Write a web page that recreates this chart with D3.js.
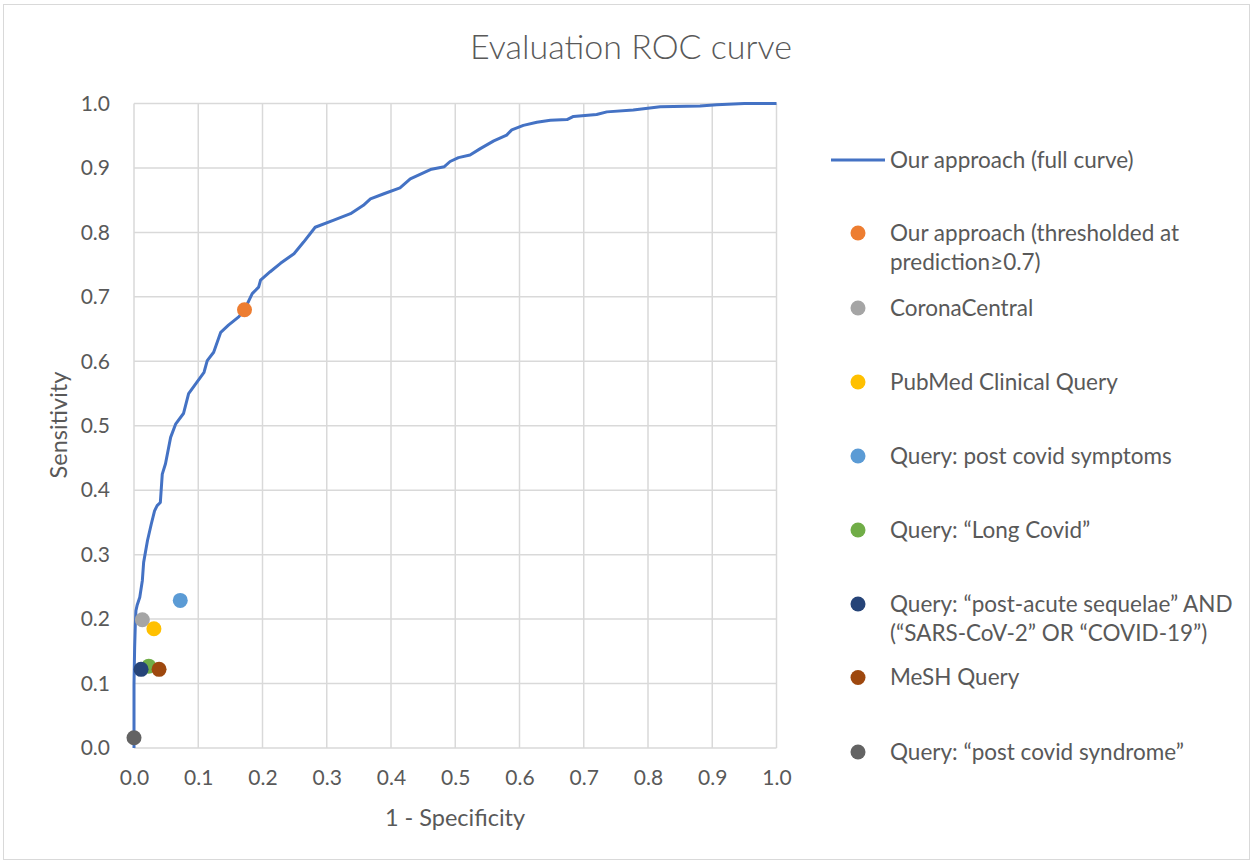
<!DOCTYPE html>
<html>
<head>
<meta charset="utf-8">
<script src="https://cdn.jsdelivr.net/npm/d3@7"></script>
<style>
  body { margin: 0; background: #fff; }
  text { font-family: Lato, "Open Sans", sans-serif; fill: #595959; }
</style>
</head>
<body>
<script>
'use strict';

// ROC curve: false positive rate, true positive rate
const curveFpr = [0, 0.000, 0.000, 0.001, 0.002, 0.003, 0.005, 0.009, 0.013, 0.015, 0.021, 0.027, 0.032,
  0.036, 0.041, 0.044, 0.049, 0.057, 0.065, 0.077, 0.085, 0.096, 0.109, 0.114, 0.124, 0.135, 0.147, 0.163,
  0.172, 0.184, 0.194, 0.197, 0.212, 0.228, 0.249, 0.264, 0.282, 0.311, 0.337, 0.357, 0.368, 0.389, 0.414,
  0.430, 0.463, 0.483, 0.492, 0.505, 0.523, 0.539, 0.560, 0.580, 0.588, 0.606, 0.627, 0.648, 0.674, 0.684,
  0.720, 0.736, 0.777, 0.819, 0.881, 0.907, 0.950, 1.0];
const curveTpr = [0, 0.020, 0.100, 0.156, 0.190, 0.213, 0.222, 0.234, 0.260, 0.288, 0.322, 0.348, 0.368,
  0.376, 0.381, 0.425, 0.441, 0.482, 0.503, 0.519, 0.550, 0.565, 0.583, 0.601, 0.614, 0.645, 0.656, 0.669,
  0.680, 0.705, 0.715, 0.726, 0.739, 0.752, 0.767, 0.785, 0.808, 0.819, 0.829, 0.842, 0.852, 0.860, 0.869,
  0.883, 0.898, 0.902, 0.910, 0.916, 0.920, 0.930, 0.942, 0.951, 0.959, 0.966, 0.971, 0.974, 0.975, 0.980,
  0.983, 0.987, 0.990, 0.995, 0.996, 0.998, 1.0, 1.0];

// single operating points
const pointNames = [
  ["Our approach (thresholded at", "prediction\u22650.7)"],
  ["CoronaCentral"],
  ["PubMed Clinical Query"],
  ["Query: post covid symptoms"],
  ["Query: \u201cLong Covid\u201d"],
  ["Query: \u201cpost-acute sequelae\u201d AND", "(\u201cSARS-CoV-2\u201d OR \u201cCOVID-19\u201d)"],
  ["MeSH Query"],
  ["Query: \u201cpost covid syndrome\u201d"]
];
const pointFpr = [0.172, 0.013, 0.031, 0.072, 0.023, 0.011, 0.039, 0.000];
const pointTpr = [0.680, 0.199, 0.185, 0.229, 0.127, 0.122, 0.122, 0.016];
const pointColors = ["#ed7d31", "#a5a5a5", "#ffc000", "#5b9bd5", "#70ad47", "#264478", "#9e480e", "#636363"];

const curveName = "Our approach (full curve)";
const ticks = d3.range(0, 1.0001, 0.1);

const W = 1253, H = 863;
const svg = d3.select('body').append('svg')
  .attr('width', W)
  .attr('height', H);

svg.append('rect')
  .attr('x', 3.5).attr('y', 4.5)
  .attr('width', W - 7).attr('height', H - 8)
  .attr('fill', '#fff')
  .attr('stroke', '#d9d9d9');

const xScale = d3.scaleLinear().domain([0, 1]).range([134, 776.5]);
const yScale = d3.scaleLinear().domain([0, 1]).range([748, 103.5]);

// grid
const grid = svg.append('g');
grid.selectAll('.vg').data(ticks).enter().append('line')
  .attr('x1', d => xScale(d)).attr('x2', d => xScale(d))
  .attr('y1', yScale(0)).attr('y2', yScale(1))
  .attr('stroke', '#d9d9d9').attr('stroke-width', 1.5);
grid.selectAll('.hg').data(ticks).enter().append('line')
  .attr('y1', d => yScale(d)).attr('y2', d => yScale(d))
  .attr('x1', xScale(0)).attr('x2', xScale(1))
  .attr('stroke', '#d9d9d9').attr('stroke-width', 1.5);

// axes, labels only
const xAxis = svg.append('g')
  .attr('transform', `translate(0, ${yScale(0)})`)
  .call(d3.axisBottom(xScale).tickValues(ticks).tickFormat(d3.format('.1f')).tickSize(0).tickPadding(22));
const yAxis = svg.append('g')
  .attr('transform', `translate(${xScale(0)}, 0)`)
  .call(d3.axisLeft(yScale).tickValues(ticks).tickFormat(d3.format('.1f')).tickSize(0).tickPadding(24));
[xAxis, yAxis].forEach(a => {
  a.select('.domain').remove();
  a.selectAll('text').style('font-size', '21px').style('font-family', null).attr('fill', '#595959');
});

// curve
const line = d3.line()
  .x(d => xScale(d[0]))
  .y(d => yScale(d[1]));
svg.append('path')
  .datum(curveFpr.map((x, i) => [x, curveTpr[i]]))
  .attr('fill', 'none')
  .attr('stroke', '#4472c4')
  .attr('stroke-width', 3)
  .attr('stroke-linejoin', 'round')
  .attr('d', line);

// points
svg.selectAll('.dot')
  .data(pointFpr.map((x, i) => ({ x: x, y: pointTpr[i], c: pointColors[i] })))
  .enter().append('circle')
  .attr('cx', d => xScale(d.x))
  .attr('cy', d => yScale(d.y))
  .attr('r', 7.5)
  .attr('fill', d => d.c);

// titles
svg.append('text')
  .attr('x', 631).attr('y', 59)
  .attr('text-anchor', 'middle')
  .style('font-size', '34px')
  .style('font-weight', 300)
  .text('Evaluation ROC curve');

svg.append('text')
  .attr('x', 455).attr('y', 826)
  .attr('text-anchor', 'middle')
  .style('font-size', '23.5px')
  .text('1 - Specificity');

svg.append('text')
  .attr('transform', 'translate(67, 425)rotate(-90)')
  .attr('text-anchor', 'middle')
  .style('font-size', '23.5px')
  .text('Sensitivity');

// legend
const legendY = [233, 308, 382, 456, 530, 604, 677.5, 752];
const legend = svg.append('g');
legend.append('line')
  .attr('x1', 831).attr('x2', 885)
  .attr('y1', 160).attr('y2', 160)
  .attr('stroke', '#4472c4').attr('stroke-width', 3);
legend.append('text')
  .attr('x', 890).attr('y', 160)
  .attr('dy', '0.35em')
  .style('font-size', '22.5px')
  .text(curveName);

pointNames.forEach((name, i) => {
  legend.append('circle')
    .attr('cx', 858).attr('cy', legendY[i])
    .attr('r', 7.5)
    .attr('fill', pointColors[i]);
  name.forEach((t, j) => {
    legend.append('text')
      .attr('x', 890).attr('y', legendY[i] + j * 29)
      .attr('dy', '0.35em')
      .style('font-size', '22.5px')
      .text(t);
  });
});
</script>
</body>
</html>
